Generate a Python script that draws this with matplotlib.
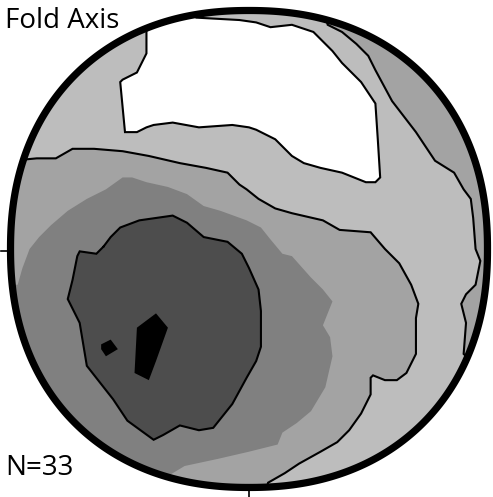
import numpy as np
import matplotlib
matplotlib.use("Agg")
import matplotlib.pyplot as plt
from matplotlib.patches import Polygon, PathPatch
from matplotlib.path import Path

plt.rcParams['font.family'] = ['Open Sans', 'DejaVu Sans']

# density contour outlines on the unit net (x east, y north)
low_outline = [(-0.43, 1.10), (-0.43, 0.82), (-0.47, 0.74), (-0.53, 0.71), (-0.54, 0.70),
               (-0.52, 0.49), (-0.47, 0.49), (-0.43, 0.51), (-0.40, 0.52), (-0.32, 0.53),
               (-0.21, 0.51), (-0.07, 0.52), (0.00, 0.51), (0.03, 0.50), (0.11, 0.46),
               (0.18, 0.39), (0.23, 0.36), (0.30, 0.34), (0.39, 0.32), (0.49, 0.28),
               (0.53, 0.28), (0.55, 0.30), (0.54, 0.46), (0.53, 0.61), (0.47, 0.70),
               (0.39, 0.78), (0.35, 0.83), (0.27, 0.91), (0.21, 0.93), (0.18, 0.94),
               (0.09, 0.93), (0.03, 0.95), (-0.04, 0.96), (-0.22, 0.97), (-0.22, 1.10)]

east_outline = [(0.30, 1.05), (0.33, 0.94), (0.39, 0.91), (0.45, 0.86), (0.50, 0.81),
                (0.53, 0.75), (0.60, 0.62), (0.70, 0.49), (0.78, 0.37), (0.86, 0.32),
                (0.90, 0.25), (0.93, 0.21), (0.94, 0.13), (0.95, 0.00), (0.97, -0.05),
                (0.95, -0.15), (0.91, -0.19), (0.89, -0.23), (0.91, -0.31), (0.90, -0.44),
                (0.96, -0.50)]
east_closure = [(1.2, -0.5), (1.2, 1.2), (0.30, 1.2)]

mid_outline = [(-1.10, 0.36), (-0.89, 0.38), (-0.81, 0.38), (-0.74, 0.42), (-0.65, 0.42),
               (-0.53, 0.41), (-0.42, 0.39), (-0.29, 0.36), (-0.18, 0.34), (-0.09, 0.32),
               (-0.04, 0.27), (-0.01, 0.25), (0.04, 0.21), (0.11, 0.17), (0.18, 0.15),
               (0.31, 0.12), (0.38, 0.08), (0.51, 0.07), (0.57, 0.00), (0.63, -0.06),
               (0.68, -0.15), (0.71, -0.23), (0.70, -0.29), (0.70, -0.44), (0.66, -0.52),
               (0.62, -0.55), (0.57, -0.55), (0.52, -0.53), (0.51, -0.54), (0.51, -0.61),
               (0.47, -0.69), (0.42, -0.76), (0.37, -0.81), (0.30, -0.85), (0.21, -0.90),
               (0.15, -0.94), (0.08, -0.98), (0.05, -1.10)]
mid_closure = [(0.05, -1.2), (-1.2, -1.2), (-1.2, 0.36)]

# unlined step between the two middle levels
high_band = [(-1.10, -0.15), (-0.97, -0.15), (-0.95, -0.08), (-0.92, 0.00), (-0.88, 0.05),
             (-0.83, 0.10), (-0.76, 0.16), (-0.68, 0.21), (-0.60, 0.25), (-0.53, 0.30),
             (-0.49, 0.30), (-0.43, 0.28), (-0.34, 0.26), (-0.26, 0.23), (-0.19, 0.18),
             (-0.12, 0.16), (-0.01, 0.12), (0.05, 0.09), (0.09, 0.04), (0.14, -0.02),
             (0.18, -0.03), (0.26, -0.12), (0.31, -0.17), (0.35, -0.22), (0.31, -0.32),
             (0.34, -0.37), (0.35, -0.45), (0.32, -0.58), (0.26, -0.68), (0.20, -0.73),
             (0.14, -0.77), (0.12, -0.82), (0.00, -0.85), (-0.13, -0.88), (-0.27, -0.91),
             (-0.37, -0.97), (-0.37, -1.2), (-1.2, -1.2), (-1.2, -0.15)]

core_outline = [(-0.61, 0.01), (-0.58, 0.05), (-0.54, 0.09), (-0.46, 0.12), (-0.32, 0.14),
                (-0.26, 0.11), (-0.19, 0.05), (-0.09, 0.03), (-0.03, -0.02), (0.00, -0.08),
                (0.04, -0.17), (0.05, -0.26), (0.05, -0.41), (0.03, -0.47), (-0.01, -0.54),
                (-0.07, -0.65), (-0.15, -0.75), (-0.21, -0.76), (-0.29, -0.74), (-0.36, -0.78),
                (-0.40, -0.80), (-0.51, -0.72), (-0.57, -0.63), (-0.68, -0.49), (-0.71, -0.31),
                (-0.76, -0.21), (-0.74, -0.13), (-0.72, -0.03), (-0.71, -0.01), (-0.64, -0.02)]

peak_a = [(-0.47, -0.33), (-0.39, -0.27), (-0.34, -0.33), (-0.39, -0.47), (-0.42, -0.55),
          (-0.48, -0.52)]
peak_b = [(-0.62, -0.40), (-0.58, -0.38), (-0.55, -0.42), (-0.60, -0.45), (-0.62, -0.42)]

shades = ['#ffffff', '#bdbdbd', '#a3a3a3', '#808080', '#4d4d4d', '#000000']
n_points = 33

fig = plt.figure(figsize=(4.93, 4.97), dpi=100)
ax = fig.add_axes([0, 0, 1, 1])
ax.set_xlim(-1.044, 1.023)
ax.set_ylim(-1.040, 1.044)
ax.set_aspect('equal')
ax.axis('off')

# hand-drawn primitive, a touch squarer than a true circle
t = np.linspace(0, 2 * np.pi, 721)
sq = 2 / 2.2
rim = np.column_stack([np.sign(np.cos(t)) * np.abs(np.cos(t)) ** sq,
                       np.sign(np.sin(t)) * np.abs(np.sin(t)) ** sq])
rim_path = Path(rim, closed=True)
net = PathPatch(rim_path, transform=ax.transData)


def fill(pts, color, z):
    p = Polygon(pts, closed=True, facecolor=color, edgecolor='none', zorder=z)
    ax.add_patch(p)
    p.set_clip_path(net)


def outline(pts, z, closed=False):
    xy = np.array(pts + pts[:1] if closed else pts)
    ln, = ax.plot(xy[:, 0], xy[:, 1], color='black', lw=1.5, zorder=z,
                  solid_joinstyle='miter')
    ln.set_clip_path(net)


ax.add_patch(PathPatch(rim_path, facecolor=shades[1], edgecolor='none', zorder=0))
fill(low_outline, shades[0], 1)
fill(east_outline + east_closure, shades[2], 1)
fill(mid_outline + mid_closure, shades[2], 2)
fill(high_band, shades[3], 3)
fill(core_outline, shades[4], 4)
fill(peak_a, shades[5], 5)
fill(peak_b, shades[5], 5)

outline(low_outline, 6)
outline(east_outline, 6)
outline(mid_outline, 6)
outline(core_outline, 6, closed=True)

# primitive and W / S ticks
ax.add_patch(PathPatch(rim_path, facecolor='none', edgecolor='black', lw=5.2, zorder=8))
ax.plot([-1.04, -1.0], [-0.01, -0.01], color='black', lw=1.2, zorder=8)
ax.plot([0.0, 0.0], [-1.0, -1.04], color='black', lw=1.2, zorder=8)

fig.text(0.01, 0.944, 'Fold Axis', fontsize=20, ha='left', va='baseline')
fig.text(0.01, 0.044, f'N={n_points}', fontsize=20, ha='left', va='baseline')

fig.savefig('out.png', dpi=100)
